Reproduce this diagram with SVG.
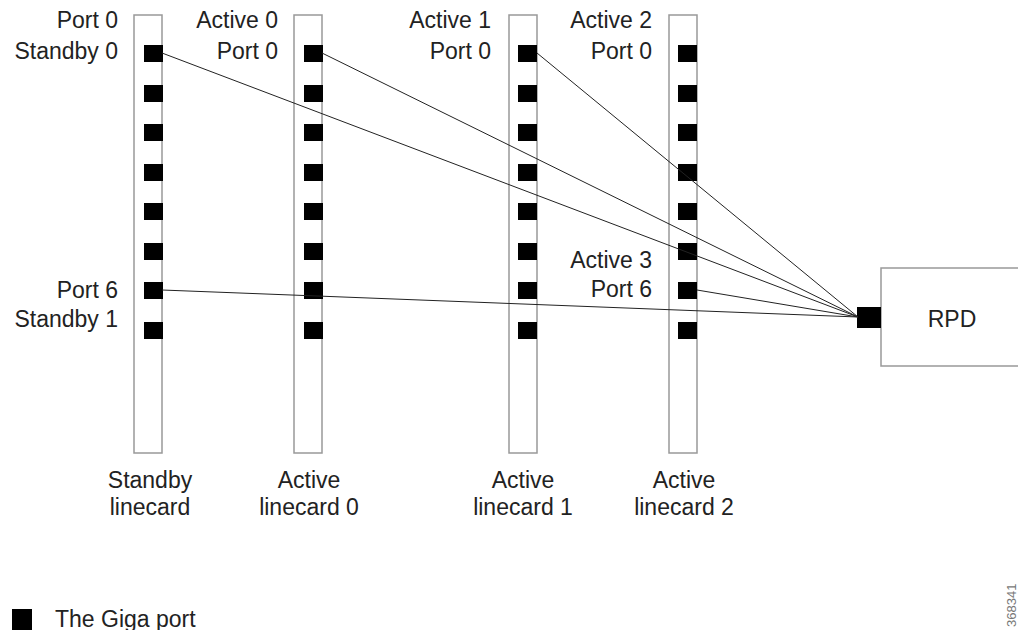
<svg xmlns="http://www.w3.org/2000/svg" width="1018" height="630" viewBox="0 0 1018 630">
<style>
.card{fill:#fff;stroke:#999;stroke-width:1.5}
.port{fill:#000}
.t{font-family:"Liberation Sans",Arial,sans-serif;font-size:23px;fill:#222}
.r{text-anchor:end}
.m{text-anchor:middle}
.conn line{stroke:#222;stroke-width:1}
</style>
<defs>
<g id="ports">
<rect class="port" x="0" y="45" width="19" height="17"/>
<rect class="port" x="0" y="85" width="19" height="17"/>
<rect class="port" x="0" y="124" width="19" height="17"/>
<rect class="port" x="0" y="164" width="19" height="17"/>
<rect class="port" x="0" y="203" width="19" height="17"/>
<rect class="port" x="0" y="243" width="19" height="17"/>
<rect class="port" x="0" y="282" width="19" height="17"/>
<rect class="port" x="0" y="322" width="19" height="17"/>
</g>
</defs>
<rect width="1018" height="630" fill="#fff"/>
<g id="standby">
<rect class="card" x="134" y="15" width="28" height="438"/>
<use href="#ports" x="144"/>
<text class="t r" x="118" y="28">Port 0</text>
<text class="t r" x="118" y="59">Standby 0</text>
<text class="t r" x="118" y="298">Port 6</text>
<text class="t r" x="118" y="327">Standby 1</text>
<text class="t m" x="150" y="488">Standby</text>
<text class="t m" x="150" y="515">linecard</text>
</g>
<g id="active0">
<rect class="card" x="294" y="15" width="28" height="438"/>
<use href="#ports" x="304"/>
<text class="t r" x="278" y="28">Active 0</text>
<text class="t r" x="278" y="59">Port 0</text>
<text class="t m" x="309" y="488">Active</text>
<text class="t m" x="309" y="515">linecard 0</text>
</g>
<g id="active1">
<rect class="card" x="509" y="15" width="28" height="438"/>
<use href="#ports" x="518"/>
<text class="t r" x="491" y="28">Active 1</text>
<text class="t r" x="491" y="59">Port 0</text>
<text class="t m" x="523" y="488">Active</text>
<text class="t m" x="523" y="515">linecard 1</text>
</g>
<g id="active2">
<rect class="card" x="669" y="15" width="28" height="438"/>
<use href="#ports" x="678"/>
<text class="t r" x="652" y="28">Active 2</text>
<text class="t r" x="652" y="59">Port 0</text>
<text class="t r" x="652" y="268">Active 3</text>
<text class="t r" x="652" y="297">Port 6</text>
<text class="t m" x="684" y="488">Active</text>
<text class="t m" x="684" y="515">linecard 2</text>
</g>
<g id="rpd">
<rect class="card" x="881" y="268" width="150" height="98"/>
<rect class="port" x="857" y="307" width="24" height="21"/>
<text class="t m" x="952" y="327">RPD</text>
</g>
<g class="conn" id="connectors">
<line x1="162" y1="53" x2="858" y2="317"/>
<line x1="322" y1="53" x2="858" y2="317"/>
<line x1="537" y1="53" x2="858" y2="317"/>
<line x1="697" y1="290" x2="858" y2="317"/>
<line x1="162" y1="290" x2="858" y2="317"/>
</g>
<g id="legend">
<rect class="port" x="12" y="609" width="20" height="21"/>
<text class="t" x="55" y="627">The Giga port</text>
<text font-family="Liberation Sans,Arial,sans-serif" font-size="13" fill="#777" transform="translate(1016,627) rotate(-90)">368341</text>
</g>
</svg>
